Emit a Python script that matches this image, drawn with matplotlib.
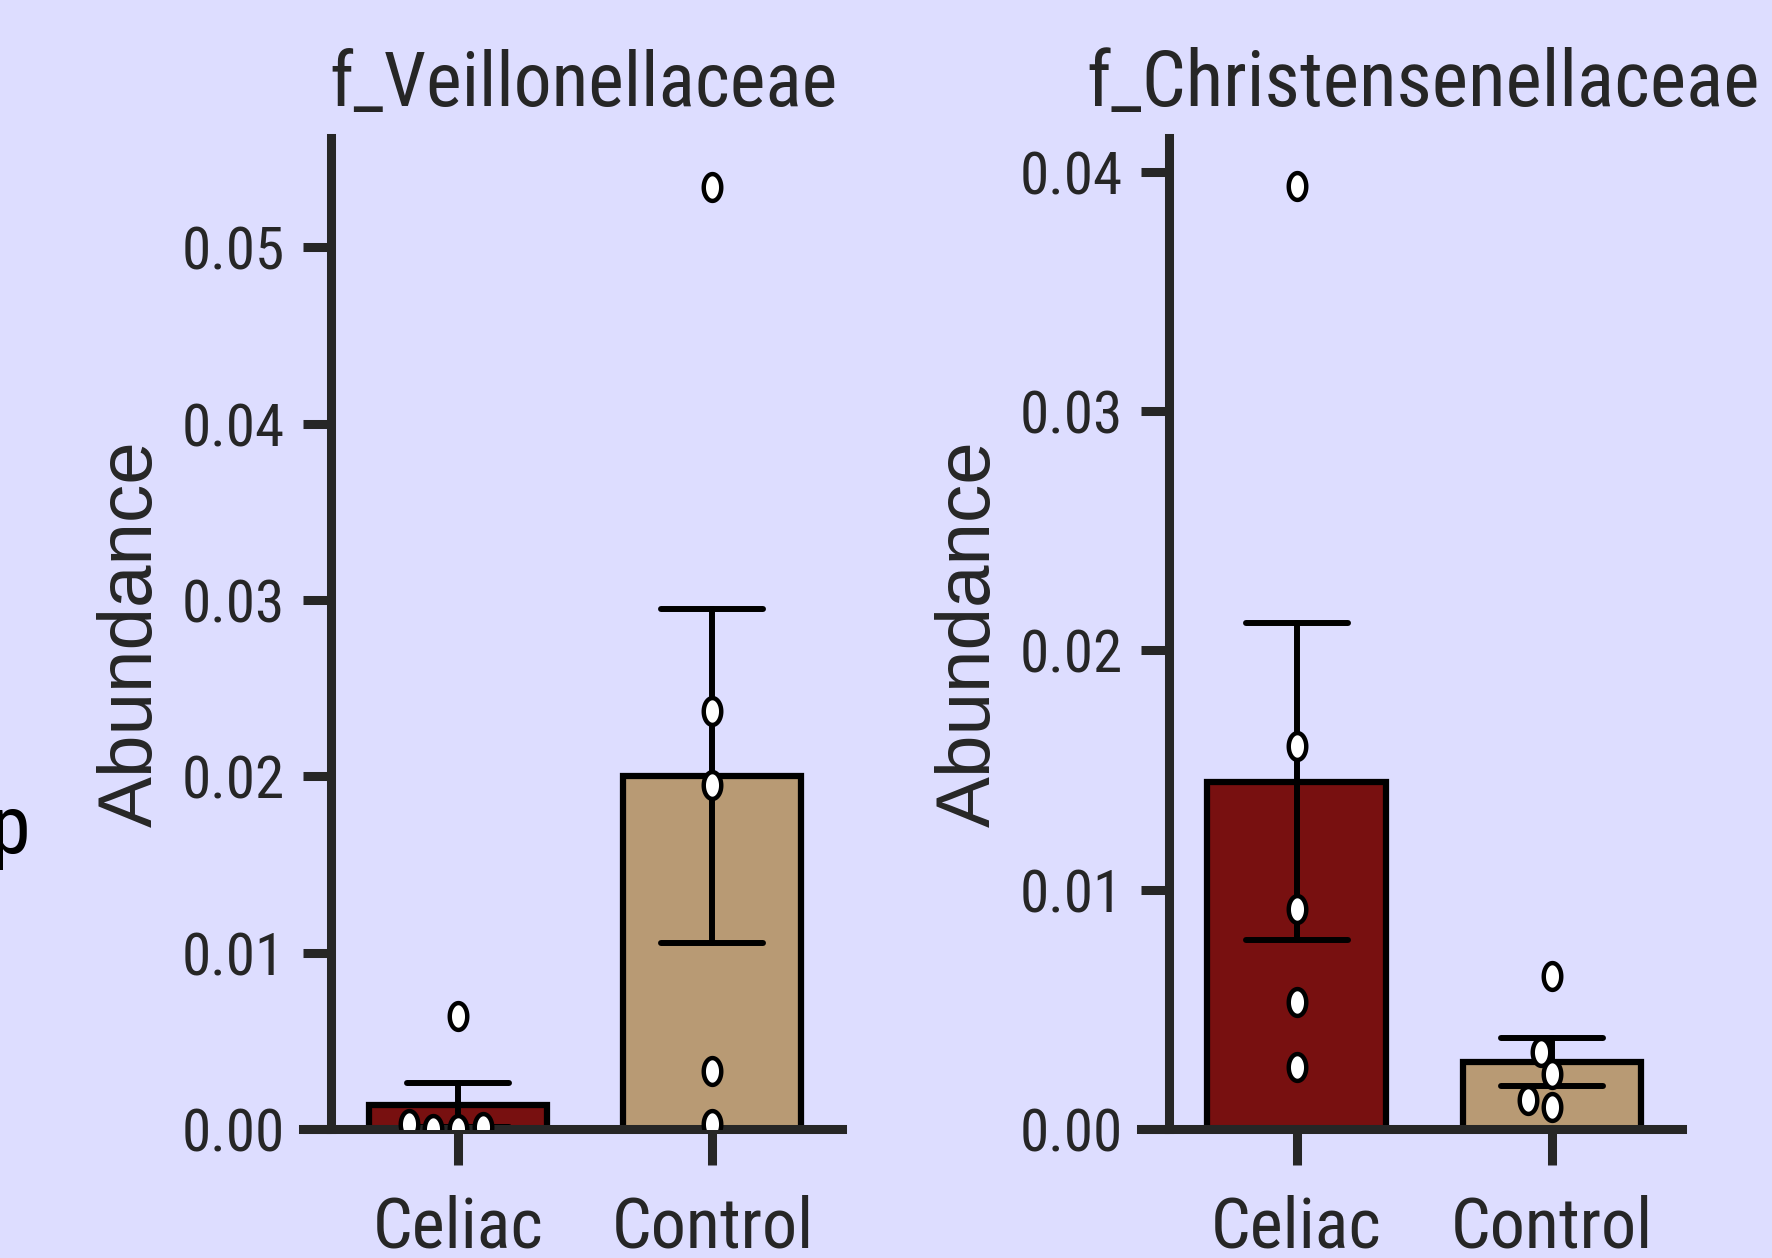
import os
import numpy as np
import pandas as pd
import matplotlib
matplotlib.use("Agg")
import matplotlib.pyplot as plt
from matplotlib import ticker, font_manager
from matplotlib.font_manager import FontProperties
from matplotlib.path import Path
import seaborn as sns

# data
groups = ["Celiac", "Control"]
taxa = ["f_Veillonellaceae", "f_Christensenellaceae"]

veil_celiac = [0.0003, 0.0, 0.0, 0.0001, 0.0064]
veil_control = [0.0534, 0.0237, 0.0195, 0.0033, 0.0003]
chris_celiac = [0.0394, 0.0160, 0.0092, 0.0053, 0.0026]
chris_control = [0.0064, 0.0032, 0.0023, 0.0012, 0.0009]

values = {taxa[0]: (veil_celiac, veil_control),
          taxa[1]: (chris_celiac, chris_control)}
ytop = {taxa[0]: 0.0562, taxa[1]: 0.0414}
yticks = {taxa[0]: [0, 0.01, 0.02, 0.03, 0.04, 0.05],
          taxa[1]: [0, 0.01, 0.02, 0.03, 0.04]}

colors = {"Celiac": "#781010", "Control": "#b89a74"}
bg = "#ddddff"
ink = "#262626"

sns.set_style("ticks")


def pick_narrow():
    # narrowest arial-like face we can find on this box
    files = [f.fname for f in font_manager.fontManager.ttflist]
    wanted = ["liberationsansnarrow-regular", "arialnarrow", "arial narrow",
              "notosans-extracondensed.", "notosans-condensed.",
              "robotocondensed-regular", "roboto_condensed-regular",
              "opensans-condensed", "notosans-semicondensed.",
              "dejavusanscondensed."]
    for w in wanted:
        for fn in files:
            if w in os.path.basename(fn).lower():
                return fn
    return None


nfile = pick_narrow()
fp = FontProperties(fname=nfile) if nfile else FontProperties(family="Liberation Sans")
plt.rcParams["font.family"] = ["Liberation Sans", "DejaVu Sans"]

# squashed circle marker like in the original
t = np.linspace(0, 2 * np.pi, 80)
ellipse = Path(np.column_stack([0.45 * np.cos(t), 0.69 * np.sin(t)]), closed=True)

fig = plt.figure(figsize=(17.72, 12.58), dpi=100, facecolor=bg)
W, H = 1772.0, 1258.0
renderer = fig.canvas.get_renderer()


def fitted(text, target_px, size=50, props=fp):
    probe = fig.text(0, 0, text, fontproperties=props, fontsize=size)
    w = probe.get_window_extent(renderer).width
    probe.remove()
    return size * target_px / w


ytick_fs = fitted("0.05", 103)
xtick_fs = (fitted("Celiac", 173) + fitted("Control", 201)) / 2
xpad = (80 - 0.72 * xtick_fs * 100 / 72) * 0.72
title_fs = {taxa[0]: fitted(taxa[0], 510), taxa[1]: fitted(taxa[1], 675)}

boxes = [(303, 842), (1141, 1682)]
top_px, bot_px = 138, 1129

for name, (x0, x1) in zip(taxa, boxes):
    ax = fig.add_axes([x0 / W, 1 - bot_px / H, (x1 - x0) / W, (bot_px - top_px) / H])
    ax.set_facecolor(bg)
    cel, con = values[name]
    df = pd.DataFrame({"group": ["Celiac"] * len(cel) + ["Control"] * len(con),
                       "value": cel + con})
    sns.barplot(data=df, x="group", y="value", hue="group", order=groups,
                hue_order=groups, palette=colors, saturation=1, legend=False,
                errorbar="se", capsize=0.4, width=0.7, edgecolor="black",
                linewidth=4.5,
                err_kws={"color": "black", "linewidth": 4.3, "solid_capstyle": "round"},
                ax=ax)
    sns.swarmplot(data=df, x="group", y="value", order=groups, color="white",
                  edgecolor="black", linewidth=3.2, size=14.0, ax=ax, zorder=3)
    for coll in ax.collections:
        coll.set_paths([ellipse])

    ax.set_xlim(-0.61, 1.51)
    ax.set_ylim(0, ytop[name])
    ax.set_yticks(yticks[name])
    ax.yaxis.set_major_formatter(ticker.FormatStrFormatter("%.2f"))
    for s in ["top", "right"]:
        ax.spines[s].set_visible(False)
    ax.spines["left"].set_position(("data", -0.5))
    for s in ["left", "bottom"]:
        ax.spines[s].set_linewidth(6.5)
        ax.spines[s].set_color(ink)
    ax.tick_params(axis="y", length=20, width=6.5, color=ink, labelcolor=ink, pad=13)
    ax.tick_params(axis="x", length=26, width=6.5, color=ink, labelcolor=ink, pad=xpad)
    for lab in ax.get_yticklabels():
        lab.set_fontproperties(fp)
        lab.set_fontsize(ytick_fs)
    for lab in ax.get_xticklabels():
        lab.set_fontproperties(fp)
        lab.set_fontsize(xtick_fs)
    ax.set_xlabel("")
    ax.set_ylabel("Abundance", fontsize=55, color=ink)
    ax.yaxis.set_label_coords(-0.25, 0.5)
    ax.set_title(name, fontproperties=fp, fontsize=title_fs[name], pad=23,
                 x=0.521, color=ink)

# legend title cut off by the left edge in the original
fig.text(31 / W, 1 - 853 / H, "Group", ha="right", va="baseline",
         fontproperties=fp, fontsize=xtick_fs * 1.15, color="black")

fig.savefig("out.png", dpi=100, facecolor=bg)
